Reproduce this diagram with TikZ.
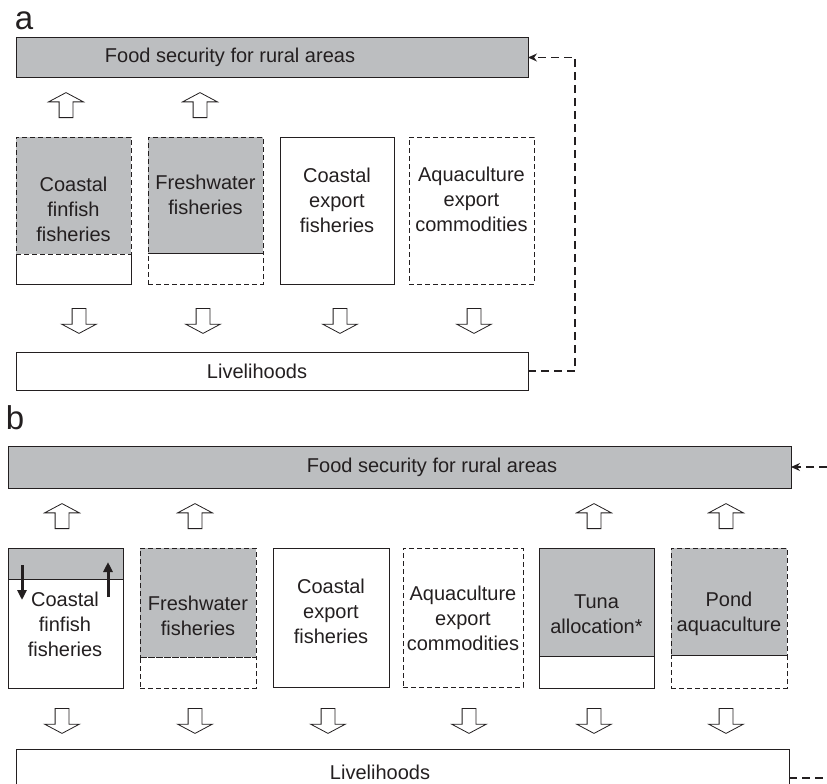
\documentclass[tikz,border=0pt]{standalone}
\usepackage{fontspec}
\setmainfont{Liberation Sans}
\usetikzlibrary{arrows.meta,calc,positioning,shapes.arrows}
\definecolor{boxgray}{RGB}{188,190,192}
\definecolor{ink}{RGB}{35,31,32}
\tikzset{colbox/.style={draw=ink,line width=1pt,inner sep=0pt,outer sep=0pt,minimum width=115pt},grbox/.style={colbox,fill=boxgray},
dsh/.style={dash pattern=on 5pt off 3pt},lbl/.style={text=ink,font=\fontsize{20}{25}\selectfont,align=center,inner sep=0pt},
blk/.style={single arrow,draw=ink,fill=white,line width=.8pt,minimum height=25pt,inner sep=6.5pt,single arrow head extend=10.5pt,single arrow tip angle=124,anchor=tail},
uparr/.style={blk,shape border rotate=90},dnarr/.style={blk,shape border rotate=270},
fb/.style={draw=ink,line width=1.3pt,dash pattern=on 8pt off 5pt},fbtip/.style={-{Stealth[length=9pt,width=8pt]}},
thk/.style={draw=ink,line width=3pt,-{Triangle[length=10pt,width=9pt]}},
panel/.style={text=ink,font=\fontsize{33}{33}\selectfont,inner sep=0pt}}
\begin{document}
\begin{tikzpicture}[x=1pt,y=-1pt]
\useasboundingbox(0,0)rectangle(827,784);
\node[panel](pa)at(24,20.5){a};
\node[grbox,minimum width=512pt,minimum height=39pt,anchor=north west](aFood)at(16,38){};\node[lbl](aFoodT)at(230,57.5){Food security for rural areas};
\node[uparr](aU1)at(66,118){};\node[uparr](aU2)at(200,118){};
\node[grbox,dsh,minimum height=117pt,anchor=north west](a1g)at(16,137){};\node[colbox,draw=none,minimum height=30pt,below=0pt of a1g](a1w){};
\draw[ink,line width=1pt](a1w.north west)--(a1w.south west)--(a1w.south east)--(a1w.north east);
\node[grbox,dsh,minimum height=116pt,anchor=north west](a2g)at(148,137){};\node[colbox,dsh,minimum height=31pt,below=0pt of a2g](a2w){};
\draw[ink,line width=1pt](a2g.south west)--(a2g.south east);
\node[colbox,minimum width=114pt,minimum height=147pt,anchor=north west](a3)at(280,137){};
\node[colbox,dsh,minimum width=125pt,minimum height=147pt,anchor=north west](a4)at(409,137){};
\node[lbl](a1t)at(73.5,209){Coastal\\finfish\\fisheries};\node[lbl](a2t)at(205.5,195){Freshwater\\fisheries};
\node[lbl](a3t)at(337,200){Coastal\\export\\fisheries};\node[lbl](a4t)at(471.5,199){Aquaculture\\export\\commodities};
\node[dnarr](aD1)at(79,308){};\node[dnarr](aD2)at(203,308){};\node[dnarr](aD3)at(340,308){};\node[dnarr](aD4)at(474,308){};
\node[colbox,minimum width=512pt,minimum height=38pt,anchor=north west](aLiv)at(16,352){};\node[lbl](aLivT)at(257,371){Livelihoods};
\draw[fb,fbtip](aLiv.east)--++(47,0)|-(aFood.east);
\node[panel](pb)at(15,418){b};
\node[grbox,minimum width=783pt,minimum height=42pt,anchor=north west](bFood)at(8,446){};\node[lbl](bFoodT)at(432,467){Food security for rural areas};
\coordinate(bE1)at(827,467);\draw[fb,fbtip](bE1)--(bFood.east);
\node[uparr](bU1)at(62,529){};\node[uparr](bU2)at(195,529){};\node[uparr](bU5)at(594,529){};\node[uparr](bU6)at(726,529){};
\node[grbox,minimum height=31pt,anchor=north west](b1g)at(8,548){};\node[colbox,minimum height=109pt,below=0pt of b1g](b1w){};
\node[grbox,dsh,minimum height=109pt,minimum width=116pt,anchor=north west](b2g)at(140,548){};\node[colbox,dsh,minimum width=116pt,minimum height=31pt,below=0pt of b2g](b2w){};
\node[colbox,minimum width=116pt,minimum height=139pt,anchor=north west](b3)at(273,548){};
\node[colbox,dsh,minimum width=120pt,minimum height=139pt,anchor=north west](b4)at(403,548){};
\node[grbox,minimum height=108pt,anchor=north west](b5g)at(539,548){};\node[colbox,minimum height=32pt,below=0pt of b5g](b5w){};
\node[grbox,dsh,minimum height=107pt,minimum width=116pt,anchor=north west](b6g)at(671,548){};\node[colbox,dsh,minimum width=116pt,minimum height=33pt,below=0pt of b6g](b6w){};
\node[lbl](b1t)at(65,624){Coastal\\finfish\\fisheries};\node[lbl](b2t)at(198,616){Freshwater\\fisheries};
\node[lbl](b3t)at(331,611){Coastal\\export\\fisheries};\node[lbl](b4t)at(463,618){Aquaculture\\export\\commodities};
\node[lbl](b5t)at(596.5,614){Tuna\\allocation*};\node[lbl](b6t)at(729,614){Pond\\aquaculture};
\coordinate(b1dnA)at(22,565);\coordinate(b1dnB)at(22,600);\draw[thk](b1dnA)--(b1dnB);
\coordinate(b1upA)at(108,597);\coordinate(b1upB)at(108,562);\draw[thk](b1upA)--(b1upB);
\node[dnarr](bD1)at(62,708){};\node[dnarr](bD2)at(195,708){};\node[dnarr](bD3)at(328,708){};\node[dnarr](bD4)at(469,708){};\node[dnarr](bD5)at(594,708){};\node[dnarr](bD6)at(726,708){};
\node[colbox,minimum width=773pt,minimum height=46pt,anchor=north west](bLiv)at(16,749){};\node[lbl](bLivT)at(380,772){Livelihoods};
\coordinate(bE2)at(827,778);\draw[fb]($(bLiv.east)+(0,6)$)--(bE2);
\end{tikzpicture}
\end{document}
